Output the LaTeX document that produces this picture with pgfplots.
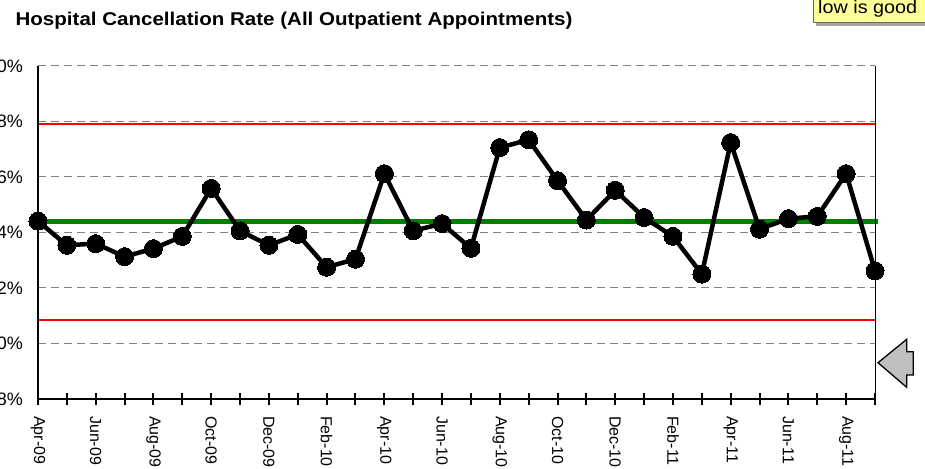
\documentclass[border=0pt]{standalone}
\usepackage{pgfplots}
\pgfplotsset{compat=1.18}
\usepackage{graphicx}
\usepackage{fontspec}
\setmainfont{Liberation Sans}
\definecolor{gridgray}{RGB}{128,128,128}
\definecolor{ctrlgreen}{RGB}{0,128,0}
\definecolor{ctrlred}{RGB}{255,0,0}
\definecolor{noteyellow}{RGB}{255,255,153}
\definecolor{arrowgray}{RGB}{192,192,192}
\begin{document}
\begin{tikzpicture}
\begin{axis}[
  at={(0pt,0pt)}, anchor=south west,
  scale only axis,
  width=837pt, height=333pt,
  xmin=0, xmax=29, ymin=8, ymax=20,
  clip=false,
  axis line style={draw=none},
  xtick={0,...,29},
  xticklabels={Apr-09,,Jun-09,,Aug-09,,Oct-09,,Dec-09,,Feb-10,,Apr-10,,Jun-10,,Aug-10,,Oct-10,,Dec-10,,Feb-11,,Apr-11,,Jun-11,,Aug-11,},
  xtick pos=bottom,
  ytick={8,10,...,20},
  yticklabels={8\%,10\%,12\%,14\%,16\%,18\%,20\%},
  ytick pos=left,
  ymajorgrids,
  major grid style={gridgray, line width=1pt, dash pattern=on 8pt off 5pt},
  tick align=center,
  major tick length=12pt,
  xtick style={black, line width=2pt},
  ytick style={draw=none},
  xticklabel style={yshift=-11pt, rotate=-90, anchor=west, inner sep=0pt, font=\fontsize{16}{16}\selectfont},
  yticklabel style={anchor=east, inner sep=0pt, font=\fontsize{18}{18}\selectfont, xshift=-9pt},
]
\addplot[ctrlred, line width=2pt, no marks] coordinates {(0,17.91) (29,17.91)};
\addplot[ctrlred, line width=2pt, no marks] coordinates {(0,10.85) (29,10.85)};
\addplot[ctrlgreen, line width=5pt, no marks] coordinates {(0,14.39) (29.1,14.39)};
\addplot[black, line width=4.5pt, mark=*, mark size=9pt, mark options={fill=black, line width=0pt}] table {
x y
0 14.41
1 13.54
2 13.60
3 13.13
4 13.42
5 13.86
6 15.59
7 14.06
8 13.54
9 13.93
10 12.75
11 13.04
12 16.12
13 14.06
14 14.32
15 13.43
16 17.06
17 17.34
18 15.87
19 14.45
20 15.52
21 14.54
22 13.86
23 12.50
24 17.24
25 14.12
26 14.50
27 14.58
28 16.12
29 12.62
};
\draw[black, line width=2.5pt] (axis cs:0,20) -- (axis cs:0,8) -- (axis cs:29,8);
\draw[black, line width=1pt] (axis cs:29,8) -- (axis cs:29,20);
\end{axis}
% title
\node[anchor=base, inner sep=0pt] at (256pt,373pt) {\scalebox{1.11}[1]{\fontsize{18.5}{20}\selectfont\bfseries Hospital Cancellation Rate (All Outpatient Appointments)}};
% note box
\fill[gray!70] (778pt,373pt) rectangle (900pt,410pt);
\filldraw[fill=noteyellow, draw=gray!80!black, line width=1pt] (775pt,376pt) rectangle (897pt,410pt);
\node[anchor=base west, inner sep=0pt] at (780pt,385.7pt) {\scalebox{1.1}[1]{\fontsize{18}{18}\selectfont low is good}};
% arrow
\filldraw[fill=arrowgray, draw=black, line width=1.3pt] (840pt,36.3pt) -- (868.7pt,59.7pt) -- (868.7pt,47.3pt) -- (875.3pt,47.3pt) -- (875.3pt,24pt) -- (868.7pt,24pt) -- (868.7pt,11.7pt) -- cycle;
\pgfresetboundingbox
\useasboundingbox (-38pt,-69pt) rectangle (887pt,399pt);
\end{tikzpicture}
\end{document}
